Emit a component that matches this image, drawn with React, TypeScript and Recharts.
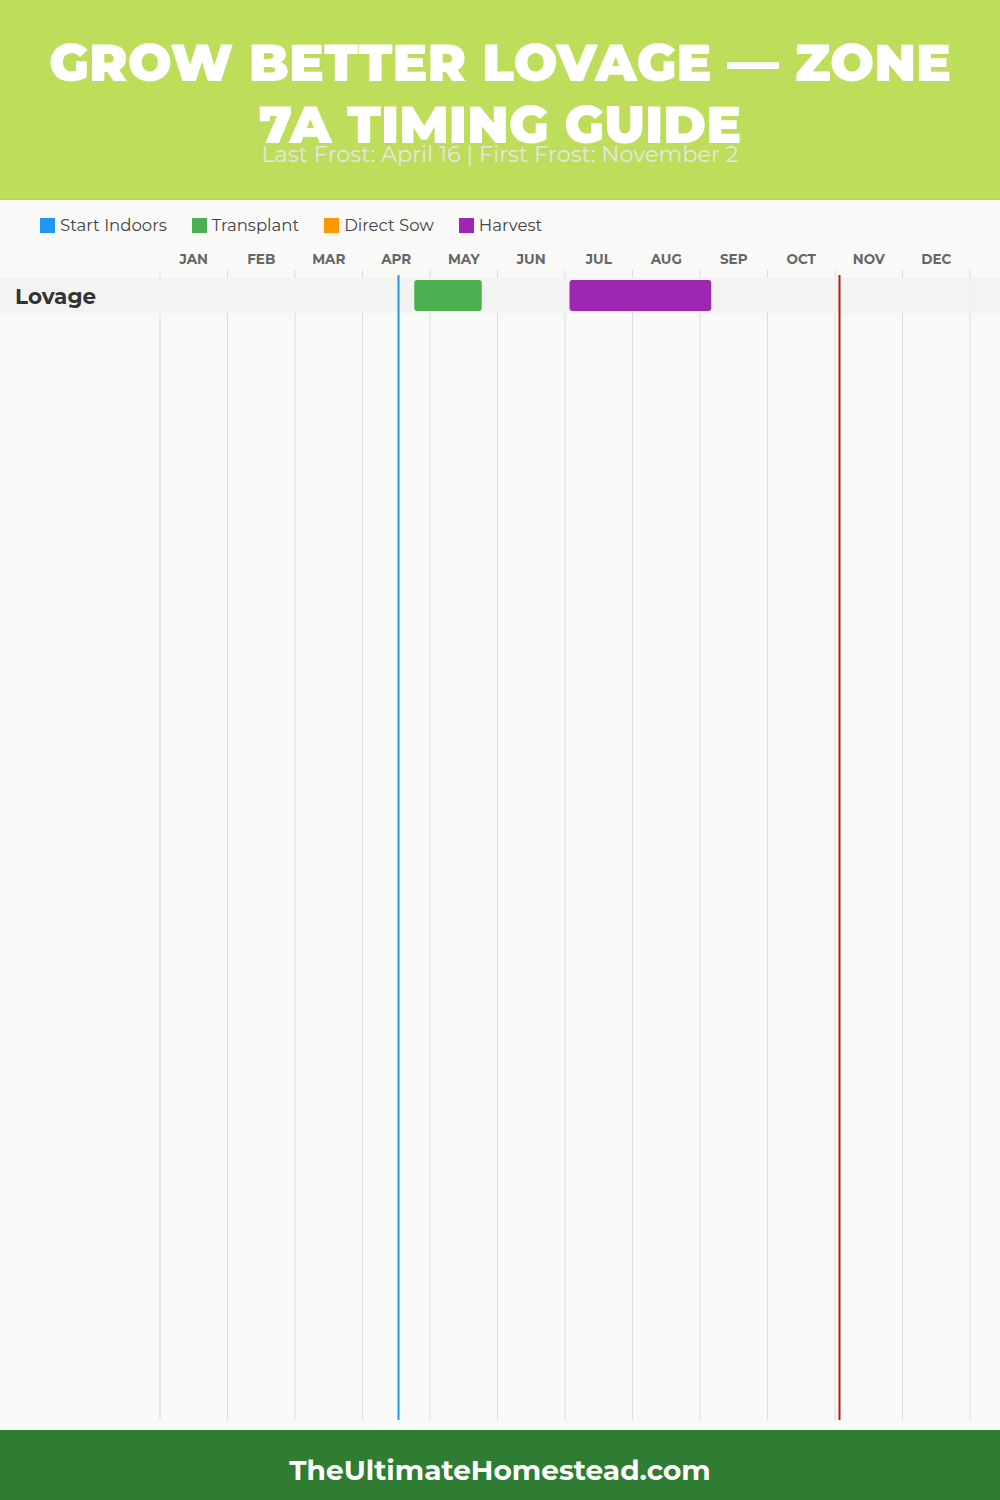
import { BarChart, Bar, XAxis, YAxis, CartesianGrid, ReferenceLine, ReferenceArea } from "recharts";

const months = ["JAN", "FEB", "MAR", "APR", "MAY", "JUN", "JUL", "AUG", "SEP", "OCT", "NOV", "DEC"];
const crops = ["Lovage"];
// [month, day] pairs
const transplantStart = [[4, 23]];
const transplantEnd = [[5, 23]];
const harvestStart = [[7, 2]];
const harvestEnd = [[9, 5]];
const lastFrost = [4, 16];
const firstFrost = [11, 2];

const legendItems = [
  { label: "Start Indoors", color: "#2196f3" },
  { label: "Transplant", color: "#4caf50" },
  { label: "Direct Sow", color: "#ff9800" },
  { label: "Harvest", color: "#9c27b0" },
];

const toPos = ([m, d]: number[]) => m - 1 + d / 30;

const data = crops.map((name, i) => ({
  name,
  transplant: [toPos(transplantStart[i]), toPos(transplantEnd[i])],
  harvest: [toPos(harvestStart[i]), toPos(harvestEnd[i])],
}));

const gridTicks = months.map((_, i) => i).concat(12);
const labelTicks = months.map((_, i) => i + 0.5);

const font = "Montserrat, Inter, sans-serif";

// label plus the parts of the row band that sit outside the plot area
const CropTick = ({ y, payload }: any) => (
  <g>
    <rect x={0} y={y - 17.5} width={160} height={35} fill="#f3f3f2" />
    <rect x={970.5} y={y - 17.5} width={30} height={35} fill="#f3f3f2" />
    <text x={15} y={y} dy={8} fontSize={21.5} fontWeight={700} fill="#333" fontFamily={font}>
      {payload.value}
    </text>
  </g>
);

const MonthTick = ({ x, y, payload }: any) => (
  <text x={x} y={y} dy={2} textAnchor="middle" fontSize={13.5} fontWeight={700} fill="#666" fontFamily={font}>
    {months[Math.floor(payload.value)]}
  </text>
);

const FrostLine = (color: string) => (props: any) => {
  const top = Math.min(props.y1, props.y2) + 5;
  const bottom = Math.max(props.y1, props.y2);
  return <line x1={props.x1} x2={props.x2} y1={top} y2={bottom} stroke={color} strokeWidth={2} />;
};

export default function App() {
  return (
    <div style={{ position: "absolute", top: 0, left: 0, width: 1000, height: 1500, background: "#f9f9f7", fontFamily: font }}>
      <div style={{ height: 199, background: "#bedd5b", borderBottom: "1px solid #b5d44f", textAlign: "center", color: "#fff", position: "relative" }}>
        <div style={{ position: "absolute", top: 32, left: 0, width: 1000, fontSize: 52, fontWeight: 900, lineHeight: "62px" }}>
          <div>GROW BETTER LOVAGE — ZONE</div>
          <div>7A TIMING GUIDE</div>
        </div>
        <div style={{ position: "absolute", top: 140, left: 0, width: 1000, fontSize: 22.4, color: "#e6e6e6", fontWeight: 400 }}>
          Last Frost: April 16 | First Frost: November 2
        </div>
      </div>
      <div style={{ position: "absolute", top: 215, left: 40, display: "flex", gap: 25 }}>
        {legendItems.map((it) => (
          <div key={it.label} style={{ display: "flex", alignItems: "center", fontSize: 16.5, color: "#444" }}>
            <span style={{ width: 15, height: 15, background: it.color, marginRight: 5, display: "inline-block" }} />
            {it.label}
          </div>
        ))}
      </div>
      <div style={{ position: "absolute", top: 200, left: 0 }}>
        <BarChart width={1000} height={1230} data={data} layout="vertical" margin={{ top: 40, right: 30, bottom: 10, left: 0 }} barSize={31} barGap={-31}>
          <XAxis
            xAxisId="months"
            type="number"
            orientation="top"
            domain={[0, 12]}
            ticks={labelTicks}
            interval={0}
            height={30}
            axisLine={false}
            tickLine={false}
            tick={<MonthTick />}
            allowDataOverflow
          />
          <XAxis xAxisId="grid" type="number" domain={[0, 12]} ticks={gridTicks} hide allowDataOverflow />
          <CartesianGrid xAxisId="grid" vertical horizontal={false} stroke="#dddddd" />
          <YAxis
            type="category"
            dataKey="name"
            width={160}
            axisLine={false}
            tickLine={false}
            padding={{ top: 8, bottom: 1107 }}
            tick={<CropTick />}
          />
          <ReferenceArea xAxisId="months" y1="Lovage" y2="Lovage" fill="#f3f3f2" fillOpacity={1} stroke="none" />
          <Bar xAxisId="months" dataKey="transplant" fill="#4caf50" radius={3} isAnimationActive={false} />
          <Bar xAxisId="months" dataKey="harvest" fill="#9c27b0" radius={3} isAnimationActive={false} />
          <ReferenceLine xAxisId="months" x={toPos(lastFrost)} stroke="#2196f3" shape={FrostLine("#2196f3")} />
          <ReferenceLine xAxisId="months" x={toPos(firstFrost)} stroke="#b71c1c" shape={FrostLine("#b71c1c")} />
        </BarChart>
      </div>
      <div style={{ position: "absolute", top: 1430, left: 0, width: 1000, height: 70, background: "#2e7d32", color: "#fff", textAlign: "center", lineHeight: "80px", fontSize: 28, fontWeight: 700 }}>
        TheUltimateHomestead.com
      </div>
    </div>
  );
}
